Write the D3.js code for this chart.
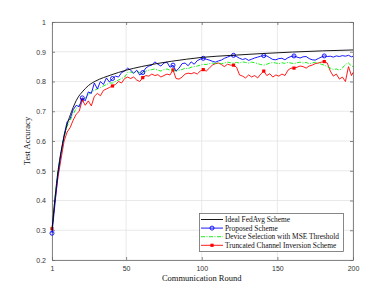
<!DOCTYPE html>
<meta charset="utf-8">
<style>
body { margin: 0; background: #fff; }
.tick text { font: 7px "Liberation Sans", Arial, sans-serif; fill: #333; }
.lab { font: 8.5px "Liberation Serif", "Times New Roman", serif; fill: #111; }
.leg text { font: 7.4px "Liberation Serif", "Times New Roman", serif; fill: #111; }
.grid line { stroke: #e3e3e3; stroke-width: 0.8px; }
</style>
<body>
<script src="https://cdn.jsdelivr.net/npm/d3@7"></script>
<script>

// rounds sampled for the noisy schemes
var rounds = d3.range(1, 200, 2).concat([200]);

var idealRounds = [1, 3, 5, 7, 9, 11, 14, 18, 21, 25, 30, 35, 40, 50, 60, 70, 80, 90, 100, 120, 140, 160, 180, 200];
var ideal = [0.30, 0.41, 0.50, 0.565, 0.615, 0.655, 0.70, 0.745, 0.765, 0.786, 0.802, 0.813, 0.822, 0.838, 0.85, 0.86, 0.868, 0.875, 0.881, 0.888, 0.894, 0.899, 0.903, 0.906];

var proposed = [
  0.29, 0.39, 0.49, 0.56, 0.62, 0.665, 0.675, 0.705, 0.72, 0.715,
  0.745, 0.735, 0.765, 0.76, 0.795, 0.775, 0.80, 0.79, 0.812, 0.798,
  0.81, 0.818, 0.815, 0.83, 0.835, 0.845, 0.838, 0.828, 0.838, 0.822,
  0.83, 0.845, 0.852, 0.855, 0.866, 0.858, 0.852, 0.862, 0.865, 0.848,
  0.855, 0.835, 0.845, 0.86, 0.862, 0.853, 0.866, 0.858, 0.87, 0.875,
  0.878, 0.875, 0.872, 0.868, 0.865, 0.869, 0.872, 0.878, 0.882, 0.886,
  0.888, 0.884, 0.878, 0.874, 0.877, 0.871, 0.875, 0.879, 0.882, 0.885,
  0.887, 0.886, 0.88, 0.874, 0.873, 0.877, 0.878, 0.873, 0.88, 0.884,
  0.886, 0.882, 0.879, 0.883, 0.884, 0.877, 0.873, 0.872, 0.877, 0.882,
  0.886, 0.884, 0.885, 0.882, 0.886, 0.884, 0.887, 0.885, 0.888, 0.883, 0.885];

var mseSel = [
  0.30, 0.41, 0.50, 0.56, 0.615, 0.65, 0.67, 0.69, 0.71, 0.72,
  0.735, 0.745, 0.755, 0.765, 0.77, 0.775, 0.78, 0.785, 0.79, 0.795,
  0.795, 0.80, 0.805, 0.81, 0.815, 0.83, 0.832, 0.828, 0.835, 0.83,
  0.825, 0.835, 0.838, 0.84, 0.842, 0.838, 0.835, 0.84, 0.842, 0.838,
  0.84, 0.835, 0.838, 0.84, 0.845, 0.843, 0.848, 0.85, 0.852, 0.855,
  0.858, 0.857, 0.86, 0.862, 0.86, 0.863, 0.86, 0.862, 0.865, 0.863,
  0.862, 0.864, 0.862, 0.866, 0.864, 0.862, 0.865, 0.863, 0.86, 0.857,
  0.855, 0.858, 0.862, 0.864, 0.862, 0.86, 0.863, 0.861, 0.864, 0.862,
  0.86, 0.863, 0.865, 0.862, 0.864, 0.86, 0.862, 0.865, 0.862, 0.858,
  0.855, 0.85, 0.845, 0.84, 0.842, 0.838, 0.845, 0.858, 0.862, 0.852, 0.85];

var truncated = [
  0.305, 0.40, 0.48, 0.54, 0.60, 0.63, 0.645, 0.67, 0.69, 0.70,
  0.738, 0.72, 0.735, 0.718, 0.75, 0.76, 0.752, 0.77, 0.775, 0.78,
  0.785, 0.79, 0.80, 0.795, 0.81, 0.815, 0.81, 0.815, 0.805, 0.80,
  0.813, 0.82, 0.818, 0.825, 0.82, 0.823, 0.815, 0.82, 0.825, 0.822,
  0.839, 0.81, 0.808, 0.815, 0.825, 0.828, 0.826, 0.83, 0.825, 0.835,
  0.84, 0.835, 0.845, 0.855, 0.86, 0.862, 0.857, 0.85, 0.858, 0.855,
  0.855, 0.848, 0.822, 0.818, 0.812, 0.822, 0.815, 0.82, 0.812, 0.825,
  0.835, 0.82, 0.826, 0.815, 0.822, 0.818, 0.825, 0.82, 0.838, 0.845,
  0.845, 0.848, 0.852, 0.85, 0.845, 0.852, 0.855, 0.86, 0.862, 0.865,
  0.867, 0.862, 0.835, 0.818, 0.825, 0.808, 0.815, 0.80, 0.85, 0.82, 0.83];

var markerRounds = [1, 21, 41, 61, 81, 101, 121, 141, 161, 181];
var xTicks = [1, 50, 100, 150, 200];
var yTicks = [0.2, 0.3, 0.4, 0.5, 0.6, 0.7, 0.8, 0.9, 1];
var legendLabels = ["Ideal FedAvg Scheme", "Proposed Scheme", "Device Selection with MSE Threshold", "Truncated Channel Inversion Scheme"];

var width = 390, height = 293;
var margin = {left: 52, right: 37, top: 22, bottom: 33};

var svg = d3.select("body").append("svg")
    .attr("width", width)
    .attr("height", height);

var x = d3.scaleLinear().domain([1, 200]).range([margin.left, width - margin.right]);
var y = d3.scaleLinear().domain([0.2, 1]).range([height - margin.bottom, margin.top]);

// grid
var grid = svg.append("g").attr("class", "grid");
grid.selectAll(".gx").data(xTicks).enter().append("line")
    .attr("x1", d => x(d)).attr("x2", d => x(d))
    .attr("y1", y(0.2)).attr("y2", y(1));
grid.selectAll(".gy").data(yTicks).enter().append("line")
    .attr("x1", x(1)).attr("x2", x(200))
    .attr("y1", d => y(d)).attr("y2", d => y(d));

// axes, ticks pointing inward like matlab
function styleAxis(g) {
  g.select(".domain").attr("stroke", "#6a6a6a").attr("stroke-width", 0.8);
  g.selectAll(".tick line").attr("stroke", "#6a6a6a").attr("stroke-width", 0.8);
}
svg.append("g").attr("transform", "translate(0," + y(0.2) + ")")
    .call(d3.axisBottom(x).tickValues(xTicks).tickSizeInner(-3).tickSizeOuter(0).tickPadding(6).tickFormat(d3.format("d")))
    .call(styleAxis);
svg.append("g").attr("transform", "translate(0," + y(1) + ")")
    .call(d3.axisTop(x).tickValues(xTicks).tickSizeInner(-3).tickSizeOuter(0).tickFormat(""))
    .call(styleAxis);
svg.append("g").attr("transform", "translate(" + x(1) + ",0)")
    .call(d3.axisLeft(y).tickValues(yTicks).tickSizeInner(-3).tickSizeOuter(0).tickPadding(6).tickFormat(d => d === 1 ? "1" : d3.format(".1f")(d)))
    .call(styleAxis);
svg.append("g").attr("transform", "translate(" + x(200) + ",0)")
    .call(d3.axisRight(y).tickValues(yTicks).tickSizeInner(-3).tickSizeOuter(0).tickFormat(""))
    .call(styleAxis);

var line = d3.line().x(d => x(d[0])).y(d => y(d[1]));

var series = [
  {data: d3.zip(idealRounds, ideal), color: "#000", dash: null, curve: d3.curveMonotoneX},
  {data: d3.zip(rounds, proposed), color: "#0000ff", dash: null, curve: d3.curveLinear, marker: "circle"},
  {data: d3.zip(rounds, mseSel), color: "#00ee00", dash: "4,1.5,1,1.5", curve: d3.curveLinear},
  {data: d3.zip(rounds, truncated), color: "#ff0000", dash: null, curve: d3.curveLinear, marker: "square"}
];

// draw back to front: red, green, blue, black
[3, 2, 1, 0].forEach(function(i) {
  var s = series[i];
  svg.append("path")
      .attr("d", line.curve(s.curve)(s.data))
      .attr("fill", "none")
      .attr("stroke", s.color)
      .attr("stroke-width", 0.9)
      .attr("stroke-dasharray", s.dash);
  if (s.marker) {
    var pts = s.data.filter(d => markerRounds.indexOf(d[0]) >= 0);
    drawMarkers(svg, pts, s);
  }
});

function drawMarkers(g, pts, s) {
  if (s.marker == "circle") {
    g.selectAll(null).data(pts).enter().append("circle")
        .attr("cx", d => x(d[0])).attr("cy", d => y(d[1]))
        .attr("r", 2).attr("fill", "none")
        .attr("stroke", s.color).attr("stroke-width", 0.9);
  } else {
    g.selectAll(null).data(pts).enter().append("rect")
        .attr("x", d => x(d[0]) - 1.6).attr("y", d => y(d[1]) - 1.6)
        .attr("width", 3.2).attr("height", 3.2)
        .attr("fill", s.color);
  }
}

// labels
svg.append("text").attr("class", "lab")
    .attr("x", x(100)).attr("y", 281)
    .attr("text-anchor", "middle")
    .text("Communication Round");
svg.append("text").attr("class", "lab")
    .attr("transform", "translate(30," + y(0.6) + ") rotate(-90)")
    .attr("text-anchor", "middle")
    .text("Test Accuracy");

// legend
var leg = svg.append("g").attr("class", "leg");
leg.append("rect")
    .attr("x", 199.5).attr("y", 213.5).attr("width", 144).attr("height", 38)
    .attr("fill", "#fff").attr("stroke", "#6a6a6a").attr("stroke-width", 0.8);
legendLabels.forEach(function(lbl, i) {
  var s = series[i], ly = 219.5 + i * 8.6;
  leg.append("line")
      .attr("x1", 201).attr("x2", 223).attr("y1", ly).attr("y2", ly)
      .attr("stroke", s.color).attr("stroke-width", 0.9)
      .attr("stroke-dasharray", s.dash);
  if (s.marker) {
    var lx = x.invert(212);
    var sy = y.invert(ly);
    drawMarkers(leg, [[lx, sy]], {marker: s.marker, color: s.color});
  }
  leg.append("text").attr("x", 225).attr("y", ly + 2.4).text(lbl);
});
</script>
</body>
